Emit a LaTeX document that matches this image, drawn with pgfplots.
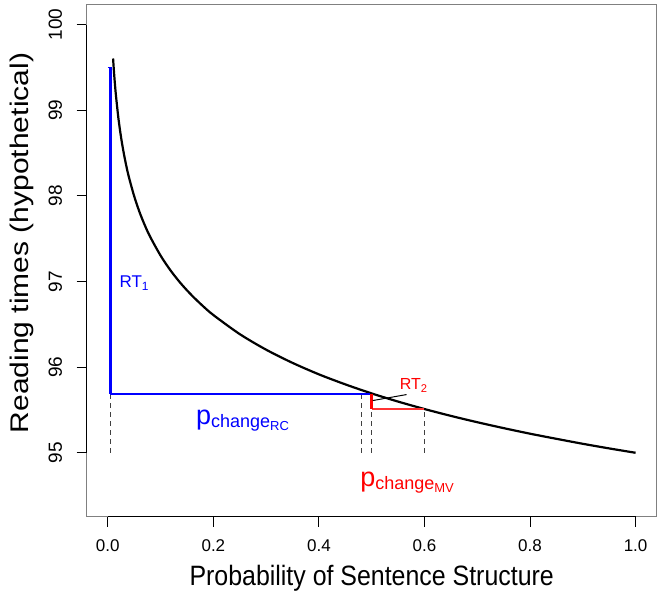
\documentclass[border=0pt]{standalone}
\usepackage{fontspec}
\setmainfont{Liberation Sans}
\usepackage{pgfplots}
\pgfplotsset{compat=1.18}

\definecolor{rblue}{RGB}{0,0,255}
\definecolor{rred}{RGB}{255,0,0}

% p with nested subscripts, as in the R figure
\newcommand\pchange[1]{{\fontsize{27}{27}\selectfont p}\raisebox{-3pt}{\fontsize{18}{18}\selectfont change\raisebox{-3pt}{\fontsize{13}{13}\selectfont #1}}}

\begin{document}
\begin{tikzpicture}
\useasboundingbox (-86.7pt,-87pt) rectangle (577.3pt,517pt);
\begin{axis}[
  at={(0pt,0pt)}, anchor=south west,
  scale only axis, width=570pt, height=512pt,
  xmin=-0.04, xmax=1.04, ymin=94.25, ymax=100.23,
  axis line style={black!50, line width=1pt},
  tick align=outside, major tick length=10pt,
  tick style={black, line width=1pt},
  xtick={0,0.2,0.4,0.6,0.8,1}, ytick={95,96,97,98,99,100},
  xtick pos=bottom, ytick pos=left,
  minor tick num=0,
  /pgf/number format/assume math mode=true,
  xticklabel shift=9pt, yticklabel shift=11pt,
  xticklabel style={font=\fontsize{17}{17}\selectfont,
    /pgf/number format/.cd, fixed, fixed zerofill, precision=1},
  yticklabel style={font=\fontsize{19}{19}\selectfont, rotate=90, anchor=south},
  clip=false,
]

% curve
\addplot[black, line width=2.2pt, smooth] coordinates {
  (0.010,99.605) (0.012,99.423) (0.015,99.200) (0.020,98.912)
  (0.025,98.689) (0.030,98.507) (0.035,98.352) (0.040,98.219)
  (0.050,97.996) (0.060,97.813) (0.070,97.659) (0.080,97.526)
  (0.100,97.303) (0.120,97.120) (0.140,96.966) (0.160,96.833)
  (0.180,96.715) (0.200,96.609) (0.250,96.386) (0.300,96.204)
  (0.350,96.050) (0.400,95.916) (0.450,95.799) (0.500,95.693)
  (0.550,95.598) (0.600,95.511) (0.650,95.431) (0.700,95.357)
  (0.750,95.288) (0.800,95.223) (0.850,95.163) (0.900,95.105)
  (0.950,95.051) (1.000,95.000)
};

% dashed guides
\addplot[black!75, line width=1pt, dash pattern=on 5pt off 4pt] coordinates {(0.005,95) (0.005,95.69)};
\addplot[black!75, line width=1pt, dash pattern=on 5pt off 4pt] coordinates {(0.48,95) (0.48,95.69)};
\addplot[black!75, line width=1pt, dash pattern=on 5pt off 4pt] coordinates {(0.50,95) (0.50,95.69)};
\addplot[black!75, line width=1pt, dash pattern=on 5pt off 4pt] coordinates {(0.60,95) (0.60,95.51)};

% RT1 / pchange RC
\addplot[draw=rblue, line width=1.6pt] coordinates {(0.005,95.69) (0.497,95.69)};
\addplot[draw=rblue, color=rblue, line width=3.2pt] coordinates {(0.005,95.69) (0.005,99.5)};
\addplot[draw=rblue, line width=1pt] coordinates {(0.0,99.5) (0.005,99.5)};

% RT2 / pchange MV
\addplot[draw=rred!80, line width=1.5pt] coordinates {(0.5,95.51) (0.6,95.51)};
\addplot[draw=rred, line width=3pt] coordinates {(0.5,95.69) (0.5,95.51)};
\addplot[black, line width=1pt] coordinates {(0.502,95.61) (0.566,95.68)};

\node[rblue, anchor=west, inner sep=0pt, font=\fontsize{17}{17}\selectfont] at (axis cs:0.022,96.98) {RT\textsubscript{1}};
\node[rred, anchor=base west, inner sep=0pt, font=\fontsize{16}{16}\selectfont] at (axis cs:0.553,95.735) {RT\textsubscript{2}};
\node[rblue, anchor=base west, inner sep=0pt] at (axis cs:0.167,95.33) {\pchange{RC}};
\node[rred, anchor=base west, inner sep=0pt] at (axis cs:0.478,94.61) {\pchange{MV}};

% R draws the axis line only over the tick range
\draw[black, line width=1pt] (axis cs:0,94.25) -- (axis cs:1,94.25);
\draw[black, line width=1pt] (axis cs:-0.04,95) -- (axis cs:-0.04,100);

\node at ([yshift=-61pt]rel axis cs:0.5,0) {\scalebox{0.89}[1]{\fontsize{28}{28}\selectfont Probability of Sentence Structure}};
\node[rotate=90] at ([xshift=-65pt, yshift=18pt]rel axis cs:0,0.5) {\scalebox{1}[0.85]{\fontsize{30}{30}\selectfont Reading times (hypothetical)}};
\end{axis}
\end{tikzpicture}
\end{document}
